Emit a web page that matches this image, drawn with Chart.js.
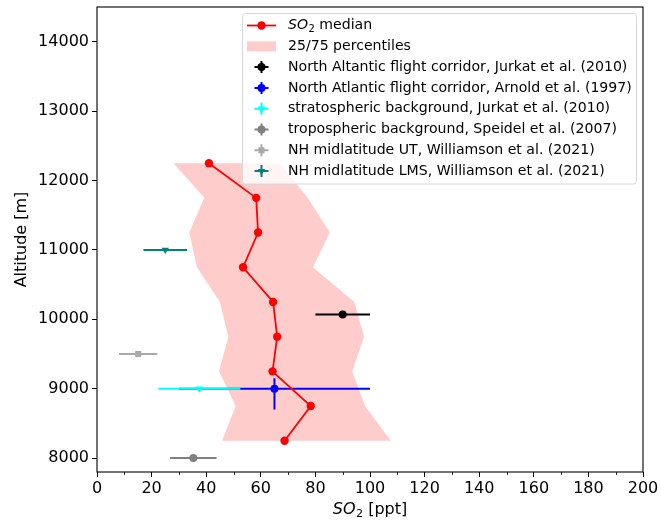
<!DOCTYPE html>
<html>
<head>
<meta charset="utf-8">
<script src="https://cdn.jsdelivr.net/npm/chart.js@4.4.0/dist/chart.umd.min.js"></script>
<style>
  html, body { margin: 0; padding: 0; background: #fff; }
</style>
</head>
<body>
<canvas id="chart" width="661" height="521"></canvas>
<script>
// median profile (altitude bins, m) and SO2 in ppt
const altitudes = [12250, 11750, 11250, 10750, 10250, 9750, 9250, 8750, 8250];
const so2Median = [41, 58.3, 59, 53.5, 64.5, 66, 64.3, 78.3, 68.7];
const so2P25 = [28, 39.3, 33.8, 36.6, 45, 48.1, 44.7, 50.8, 45.8];
const so2P75 = [67, 77.2, 85.3, 79.1, 94.3, 97.8, 93.5, 98.2, 107.6];

// literature values
const refLabels = [
  'North Altantic flight corridor, Jurkat et al. (2010)',
  'North Atlantic flight corridor, Arnold et al. (1997)',
  'stratospheric background, Jurkat et al. (2010)',
  'tropospheric background, Speidel et al. (2007)',
  'NH midlatitude UT, Williamson et al. (2021)',
  'NH midlatitude LMS, Williamson et al. (2021)'
];
const refSO2 = [90, 65, 37.5, 35.3, 15.1, 25];
const refSO2Err = [10, 35, 15, 8.5, 7, 8];
const refAlt = [10070, 9000, 9000, 8000, 9500, 11000];
const refAltErrLow = [0, 300, 0, 0, 0, 0];
const refAltErrHigh = [0, 150, 0, 0, 0, 0];
const refColors = ['#000000', '#0000ff', '#00ffff', '#808080', '#a9a9a9', '#008080'];
const refMarkers = ['circle', 'circle', 'triangle', 'circle', 'rect', 'triangle'];

const xTicks = [0, 20, 40, 60, 80, 100, 120, 140, 160, 180, 200];
const yTicks = [8000, 9000, 10000, 11000, 12000, 13000, 14000];

const FONT = "'DejaVu Sans', sans-serif";

function markerRadius(style) {
  if (style === 'rect') return 4.3;
  if (style === 'triangle') return 4.2;
  return 4;
}

// ---- datasets ----
const datasets = [];

datasets.push({
  label: 'SO2 median',
  data: altitudes.map((a, i) => ({x: so2Median[i], y: a})),
  showLine: true,
  borderColor: '#ff0000',
  backgroundColor: '#ff0000',
  borderWidth: 1.8,
  pointRadius: 4.2,
  pointBorderWidth: 0,
  order: 0
});

refLabels.forEach((lab, i) => {
  const base = 50 - i * 3;
  datasets.push({
    label: lab + ' xerr',
    data: [{x: refSO2[i] - refSO2Err[i], y: refAlt[i]}, {x: refSO2[i] + refSO2Err[i], y: refAlt[i]}],
    showLine: true,
    borderColor: refColors[i],
    borderWidth: 2,
    pointRadius: 0,
    order: base
  });
  if (refAltErrLow[i] > 0 || refAltErrHigh[i] > 0) {
    datasets.push({
      label: lab + ' yerr',
      data: [{x: refSO2[i], y: refAlt[i] - refAltErrLow[i]}, {x: refSO2[i], y: refAlt[i] + refAltErrHigh[i]}],
      showLine: true,
      borderColor: refColors[i],
      borderWidth: 2,
      pointRadius: 0,
      order: base
    });
  }
  datasets.push({
    label: lab,
    data: [{x: refSO2[i], y: refAlt[i]}],
    pointStyle: refMarkers[i],
    pointRotation: refMarkers[i] === 'triangle' ? 180 : 0,
    pointRadius: markerRadius(refMarkers[i]),
    pointBorderWidth: 0,
    backgroundColor: refColors[i],
    borderColor: refColors[i],
    order: base - 1
  });
});

// 25/75 percentile band as one closed shape
const bandPts = altitudes.map((a, i) => ({x: so2P25[i], y: a}))
  .concat(altitudes.map((a, i) => ({x: so2P75[i], y: a})).reverse());
datasets.push({
  label: '25/75 percentiles',
  data: bandPts,
  showLine: true,
  fill: 'shape',
  borderWidth: 0,
  borderColor: 'rgba(0,0,0,0)',
  backgroundColor: 'rgba(255,0,0,0.2)',
  pointRadius: 0,
  order: 100
});

// ---- drawing helpers ----
function drawSO2(ctx, x, y, size, after) {
  // italic SO with subscript 2, like matplotlib mathtext
  ctx.textBaseline = 'middle';
  ctx.textAlign = 'left';
  ctx.font = 'italic ' + size + 'px ' + FONT;
  ctx.fillText('SO', x, y);
  let w = ctx.measureText('SO').width;
  ctx.font = (size * 0.7) + 'px ' + FONT;
  ctx.fillText('2', x + w + 0.5, y + size * 0.25);
  w += ctx.measureText('2').width + 0.5;
  ctx.font = size + 'px ' + FONT;
  ctx.fillText(after, x + w, y);
  return w + ctx.measureText(after).width;
}

const framePlugin = {
  id: 'frame',
  afterDraw(chart) {
    const ctx = chart.ctx;
    const a = chart.chartArea;
    const xs = chart.scales.x;
    ctx.save();
    // minor ticks
    ctx.strokeStyle = '#000';
    ctx.lineWidth = 0.8;
    for (let v = 10; v < 200; v += 20) {
      const px = Math.round(xs.getPixelForValue(v)) + 0.5;
      ctx.beginPath();
      ctx.moveTo(px, a.bottom);
      ctx.lineTo(px, a.bottom + 3);
      ctx.stroke();
    }
    // spines
    ctx.lineWidth = 1.1;
    ctx.strokeRect(a.left, a.top, a.right - a.left, a.bottom - a.top);

    // axis titles
    ctx.fillStyle = '#000';
    const title = ' [ppt]';
    ctx.font = 'italic 16px ' + FONT;
    let tw = ctx.measureText('SO').width;
    ctx.font = '11.2px ' + FONT;
    tw += ctx.measureText('2').width + 0.5;
    ctx.font = '16px ' + FONT;
    tw += ctx.measureText(title).width;
    drawSO2(ctx, (a.left + a.right) / 2 - tw / 2, 510, 16, title);

    ctx.save();
    ctx.translate(22, (a.top + a.bottom) / 2);
    ctx.rotate(-Math.PI / 2);
    ctx.textAlign = 'center';
    ctx.textBaseline = 'middle';
    ctx.font = '16px ' + FONT;
    ctx.fillText('Altitude [m]', 0, 0);
    ctx.restore();

    // legend
    const lx = 242.5, ly = 13.5, lw = 394, lh = 170.5;
    ctx.fillStyle = 'rgba(255,255,255,0.8)';
    ctx.strokeStyle = '#d8d8d8';
    ctx.lineWidth = 1;
    ctx.beginPath();
    ctx.roundRect(lx, ly, lw, lh, 3);
    ctx.fill();
    ctx.stroke();

    const rowY = i => 25.5 + i * 20.8;
    const hx = 261.5, tx = 288;
    const fs = 14.1;
    ctx.fillStyle = '#000';
    // median entry
    ctx.strokeStyle = '#ff0000';
    ctx.lineWidth = 1.8;
    ctx.beginPath();
    ctx.moveTo(247, rowY(0));
    ctx.lineTo(276, rowY(0));
    ctx.stroke();
    ctx.fillStyle = '#ff0000';
    ctx.beginPath();
    ctx.arc(hx, rowY(0), 4.2, 0, Math.PI * 2);
    ctx.fill();
    ctx.fillStyle = '#000';
    drawSO2(ctx, tx, rowY(0), fs, ' median');
    // band entry
    ctx.fillStyle = 'rgba(255,0,0,0.2)';
    ctx.fillRect(247, rowY(1) - 5, 29, 10);
    ctx.fillStyle = '#000';
    ctx.font = fs + 'px ' + FONT;
    ctx.textBaseline = 'middle';
    ctx.fillText('25/75 percentiles', tx, rowY(1));
    // literature entries
    refLabels.forEach((lab, i) => {
      const y = rowY(i + 2);
      ctx.strokeStyle = refColors[i];
      ctx.lineWidth = 2;
      ctx.beginPath();
      ctx.moveTo(hx - 7, y); ctx.lineTo(hx + 7, y);
      ctx.moveTo(hx, y - 6); ctx.lineTo(hx, y + 6);
      ctx.stroke();
      ctx.fillStyle = refColors[i];
      const r = markerRadius(refMarkers[i]);
      ctx.beginPath();
      if (refMarkers[i] === 'circle') {
        ctx.arc(hx, y, r, 0, Math.PI * 2);
      } else if (refMarkers[i] === 'rect') {
        const s = r * Math.SQRT1_2;
        ctx.rect(hx - s, y - s, 2 * s, 2 * s);
      } else {
        ctx.moveTo(hx - r * 0.866, y - r * 0.5);
        ctx.lineTo(hx + r * 0.866, y - r * 0.5);
        ctx.lineTo(hx, y + r);
        ctx.closePath();
      }
      ctx.fill();
      ctx.fillStyle = '#000';
      ctx.font = fs + 'px ' + FONT;
      ctx.fillText(lab, tx, y);
    });
    ctx.restore();
  }
};

new Chart(document.getElementById('chart'), {
  type: 'scatter',
  data: { datasets: datasets },
  options: {
    responsive: false,
    animation: false,
    devicePixelRatio: 1,
    layout: { padding: { top: 7, right: 18, left: 0, bottom: 0 } },
    plugins: {
      legend: { display: false },
      tooltip: { enabled: false }
    },
    scales: {
      x: {
        type: 'linear',
        min: 0,
        max: 200,
        afterBuildTicks: s => { s.ticks = xTicks.map(v => ({value: v})); },
        afterFit: s => { s.height = 49; },
        border: { display: false },
        grid: { drawOnChartArea: false, drawTicks: true, tickLength: 5, tickColor: '#000', tickWidth: 1 },
        ticks: { color: '#000', padding: 2, maxRotation: 0, font: { family: FONT, size: 16 } }
      },
      y: {
        type: 'linear',
        min: 7800,
        max: 14500,
        afterBuildTicks: s => { s.ticks = yTicks.map(v => ({value: v})); },
        afterFit: s => { s.width = 97; s.paddingTop = 0; s.paddingBottom = 0; },
        border: { display: false },
        grid: { drawOnChartArea: false, drawTicks: true, tickLength: 5, tickColor: '#000', tickWidth: 1 },
        ticks: { color: '#000', padding: 3, font: { family: FONT, size: 16 }, callback: v => String(v) }
      }
    }
  },
  plugins: [framePlugin]
});
</script>
</body>
</html>
